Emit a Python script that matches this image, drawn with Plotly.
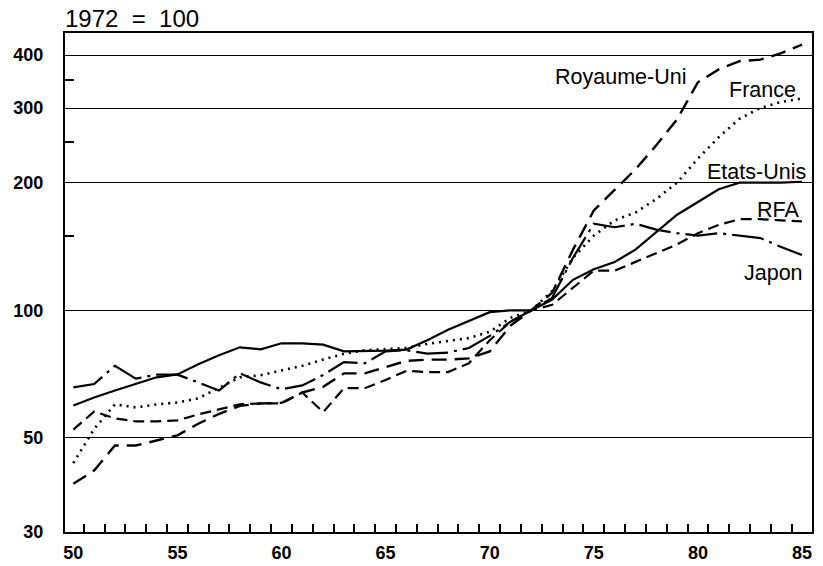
import plotly.graph_objects as go

years = list(range(50, 86))

etats_unis = [59.6, 62.3, 64.7, 67.2, 69.5, 70.6, 74.6, 78.3, 81.8, 80.9,
              83.6, 83.6, 83.0, 80.0, 80.0, 80.3, 80.8, 85.0, 90.0, 94.5,
              99.0, 100, 100, 106, 118, 125, 130, 139, 153, 168,
              180, 193, 200, 200, 200, 201]
france = [43.6, 52.5, 60.0, 59.0, 60.0, 60.6, 62.0, 65.5, 69.5, 70.3,
          72.0, 74.0, 76.5, 79.0, 80.5, 81.0, 81.5, 83.3, 84.5, 86.0,
          89.0, 96.0, 100, 111, 133, 150, 163, 170, 183, 200,
          228, 256, 283, 300, 310, 316]
royaume_uni = [39.0, 41.9, 48.0, 48.0, 49.3, 50.7, 54.0, 57.0, 59.5, 60.3,
               60.5, 64.0, 66.0, 71.0, 71.0, 73.5, 76.0, 76.5, 76.5, 77.0,
               80.0, 92.0, 100, 110, 139, 172, 192, 215, 245, 282,
               345, 370, 387, 390, 404, 423]
rfa = [52.3, 57.7, 55.6, 54.7, 54.7, 55.0, 56.8, 58.4, 60.0, 60.3,
       60.3, 64.0, 57.5, 65.5, 65.5, 68.5, 72.0, 71.5, 71.5, 75.0,
       85.0, 94.0, 100, 103, 113, 124, 124, 130, 136, 143,
       152, 159, 164, 164, 163, 162]
japon = [65.8, 67.0, 74.0, 69.0, 70.5, 70.5, 67.6, 64.7, 71.0, 67.6,
         65.1, 66.5, 70.4, 75.5, 75.0, 80.0, 80.5, 79.0, 79.5, 81.5,
         87.0, 94.0, 100, 107, 133, 160, 157, 160, 155, 152,
         150, 152, 150, 148, 141, 135]

y_ticks = [30, 50, 100, 200, 300, 400]
y_minor = [150, 250, 350]
x_ticks = [50, 55, 60, 65, 70, 75, 80, 85]

series = [
    ("Etats-Unis", etats_unis, "solid", 2.2),
    ("France", france, "2px,5px", 2.6),
    ("Royaume-Uni", royaume_uni, "15px,8px", 2.4),
    ("RFA", rfa, "11px,6px", 2.2),
    ("Japon", japon, "32px,6px,3px,6px", 2.2),
]

fig = go.Figure()
for name, vals, dash, w in series:
    fig.add_trace(go.Scatter(x=years, y=vals, mode="lines", name=name,
                             line=dict(color="black", width=w, dash=dash)))

labels = [
    ("Royaume-Uni", 0.8340, 0.9118),
    ("France", 0.9813, 0.8858),
    ("Etats-Unis", 0.9946, 0.7214),
    ("RFA", 0.9853, 0.6453),
    ("Japon", 0.9906, 0.5190),
]
for txt, xp, yp in labels:
    fig.add_annotation(text=txt, xref="paper", yref="paper", x=xp, y=yp,
                       xanchor="right", yanchor="middle", showarrow=False,
                       font=dict(family="Arial, Liberation Sans", size=21.5, color="black"))

fig.add_annotation(text="1972\u00a0\u00a0=\u00a0\u00a0100", xref="paper", yref="paper",
                   x=-0.003, y=1.030, xanchor="left", yanchor="middle", showarrow=False,
                   font=dict(family="Arial, Liberation Sans", size=24, color="black"))

fig.update_layout(
    width=823, height=566,
    margin=dict(l=65, r=11, t=33, b=34, autoexpand=False),
    paper_bgcolor="white", plot_bgcolor="white",
    showlegend=False,
    font=dict(family="Arial, Liberation Sans", color="black"),
)
fig.update_xaxes(
    range=[49.6, 85.48], tickmode="array", tickvals=x_ticks, automargin=False,
    ticktext=[str(v) for v in x_ticks], ticks="", showgrid=False, zeroline=False,
    showline=True, linecolor="black", linewidth=2, mirror=True,
    tickfont=dict(family="Arial, Liberation Sans", size=18, color="black", weight="bold"),
    ticklabelstandoff=3,
    minor=dict(tickmode="array", tickvals=[49.5 + i for i in range(37)],
               ticks="inside", ticklen=8, tickwidth=2, tickcolor="black", showgrid=False),
)
fig.update_yaxes(
    type="log", range=[1.4771, 2.654], tickmode="array", tickvals=y_ticks, automargin=False,
    ticktext=[str(v) for v in y_ticks], ticks="", showgrid=True,
    gridcolor="black", gridwidth=1.4, zeroline=False,
    showline=True, linecolor="black", linewidth=2, mirror=True,
    tickfont=dict(family="Arial, Liberation Sans", size=18, color="black", weight="bold"),
    ticklabelstandoff=16,
    minor=dict(tickmode="array", tickvals=y_minor, ticks="inside", ticklen=9,
               tickwidth=2, tickcolor="black", showgrid=False),
)

fig.write_html("out.html")
